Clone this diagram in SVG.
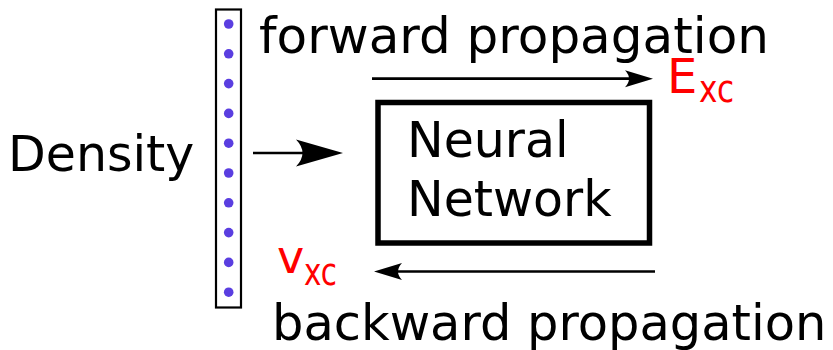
<svg xmlns="http://www.w3.org/2000/svg" width="833" height="350" viewBox="0 0 833 350">
<style>
text{font-family:"DejaVu Sans","Liberation Sans",sans-serif;font-size:49px;fill:#000}
.red{fill:#ff0000}
.sub{font-size:38px}
.dot{fill:#5a3ee0}
.conn{stroke:#000;stroke-width:2.7;fill:none}
</style>
<defs>
<marker id="sm" markerUnits="userSpaceOnUse" markerWidth="60" markerHeight="40" refX="0" refY="0" orient="auto" overflow="visible">
<path d="M8,0 L-20,-8.5 Q-12,0 -20,8.5 Z" fill="#000"/>
</marker>
<marker id="lg" markerUnits="userSpaceOnUse" markerWidth="80" markerHeight="60" refX="0" refY="0" orient="auto" overflow="visible">
<path d="M8,0 L-39,-13.5 Q-26,0 -39,13.5 Z" fill="#000"/>
</marker>
</defs>
<rect width="833" height="350" fill="#fff"/>
<g id="density-label"><text x="8" y="171">Density</text></g>
<g id="density">
<rect x="216" y="9.5" width="25" height="298" fill="#fff" stroke="#000" stroke-width="2.2"/>
<circle class="dot" cx="228.7" cy="24" r="4.8"/>
<circle class="dot" cx="228.7" cy="53.8" r="4.8"/>
<circle class="dot" cx="228.7" cy="83.6" r="4.8"/>
<circle class="dot" cx="228.7" cy="113.4" r="4.8"/>
<circle class="dot" cx="228.7" cy="143.2" r="4.8"/>
<circle class="dot" cx="228.7" cy="173" r="4.8"/>
<circle class="dot" cx="228.7" cy="202.8" r="4.8"/>
<circle class="dot" cx="228.7" cy="232.6" r="4.8"/>
<circle class="dot" cx="228.7" cy="262.4" r="4.8"/>
<circle class="dot" cx="228.7" cy="292.2" r="4.8"/>
</g>
<g id="neural-network">
<rect x="378" y="102.5" width="271.5" height="140.5" fill="none" stroke="#000" stroke-width="5.5"/>
<text x="407" y="157">Neural</text>
<text x="407" y="216">Network</text>
</g>
<g id="exc">
<text class="red" x="667" y="93" style="font-size:48px">E</text>
<text class="red sub" x="699" y="102" textLength="35" lengthAdjust="spacingAndGlyphs">xc</text>
</g>
<g id="vxc">
<text class="red" x="277" y="273" style="font-size:46px">v</text>
<text class="red sub" x="304" y="285" textLength="33" lengthAdjust="spacingAndGlyphs">xc</text>
</g>
<g id="forward-label"><text x="259" y="52.5" style="font-size:50px">forward propagation</text></g>
<g id="backward-label"><text x="272" y="339.5" style="font-size:49.5px">backward propagation</text></g>
<g id="connectors">
<line class="conn" x1="253" y1="153" x2="335" y2="153" marker-end="url(#lg)"/>
<line class="conn" x1="372" y1="78.7" x2="645" y2="78.7" marker-end="url(#sm)"/>
<line class="conn" x1="655" y1="271.5" x2="382" y2="271.5" marker-end="url(#sm)"/>
</g>
</svg>
